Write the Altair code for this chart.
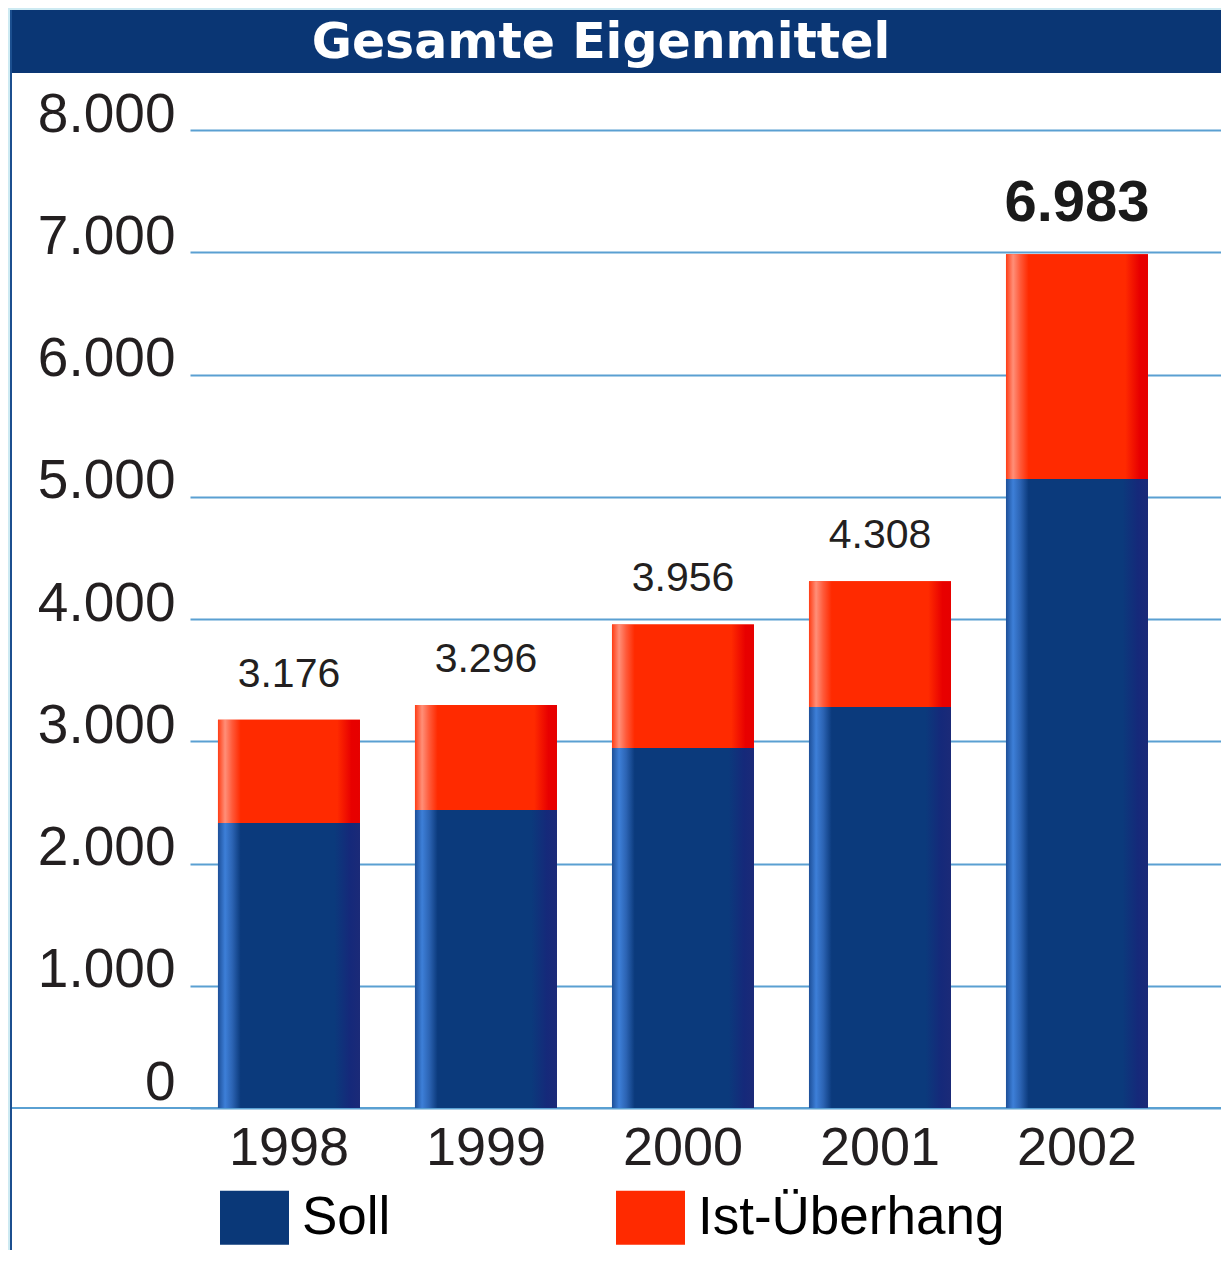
import altair as alt
import pandas as pd

# ---------------- data ----------------
YEARS = ["1998", "1999", "2000", "2001", "2002"]
SOLL = [2331, 2438, 2945, 3280, 5145]
TOTAL = [3176, 3296, 3956, 4308, 6983]
SERIES = ["Soll", "Ist-Überhang"]
Y_TICKS = [0, 1000, 2000, 3000, 4000, 5000, 6000, 7000, 8000]
TITLE = "Gesamte Eigenmittel"
HIGHLIGHT_YEAR = "2002"

# ---------------- styling ----------------
PLOT_W = 1031
PLOT_H = 978
BLUE = "#0a3878"
RED = "#ff2a00"
GRID = "#5aa0d2"
TITLE_BG = "#0a3674"
EDGE_LIGHT = "#cdeaf2"
EDGE_DARK = "#1c4f8f"
FONT = "Liberation Sans"
TXT = "#231f20"

BLUE_STOPS = [(0, "#1d4f98"), (0.05, "#3d7fd8"), (0.10, "#2c64b4"), (0.16, "#0b3a7c"),
              (0.82, "#0b3a7c"), (0.93, "#15297a"), (1.0, "#1b2a78")]
RED_STOPS = [(0, "#ff3c14"), (0.05, "#ff8f78"), (0.10, "#ff5a3a"), (0.16, "#ff2a00"),
             (0.84, "#ff2a00"), (0.94, "#e80000"), (1.0, "#e60000")]


def gradient(stops):
    return alt.Gradient(gradient="linear", x1=0, y1=0, x2=1, y2=0,
                        stops=[alt.GradientStop(offset=o, color=c) for o, c in stops])


rows = []
for yr, s, t in zip(YEARS, SOLL, TOTAL):
    rows.append({"year": yr, "series": "Soll", "start": 0, "end": s})
    rows.append({"year": yr, "series": "Ist-Überhang", "start": s, "end": t})
bars = pd.DataFrame(rows)

totals = pd.DataFrame({
    "year": YEARS,
    "total": TOTAL,
    "label": [f"{v:,}".replace(",", ".") for v in TOTAL],
    "hl": [yr == HIGHLIGHT_YEAR for yr in YEARS],
})

x_axis = alt.Axis(title=None, labelAngle=0, labelFont=FONT, labelFontSize=54,
                  labelColor=TXT, labelBaseline="alphabetic", labelPadding=56,
                  ticks=False, tickSize=0, domain=False, grid=False)
x_scale = alt.Scale(paddingInner=0.2792, paddingOuter=0.2563, align=0.277)

y_axis = alt.Axis(title=None, values=Y_TICKS,
                  labelExpr="replace(format(datum.value, ','), ',', '.')",
                  labelFont=FONT, labelFontSize=55, labelColor=TXT,
                  labelAlign="right", labelBaseline="alphabetic", labelPadding=15,
                  labelOffset={"condition": {"test": "datum.value === 0", "value": -9}, "value": 1},
                  ticks=False, tickSize=0, domain=False,
                  grid=True, gridColor=GRID, gridWidth=2)
y_scale = alt.Scale(domain=[0, 8000], nice=False, zero=True)


def X():
    return alt.X("year:N", sort=YEARS, scale=x_scale, axis=x_axis)


def Y(field):
    return alt.Y(field, scale=y_scale, axis=y_axis)


base = alt.Chart(bars)

flat = base.mark_bar(strokeWidth=0).encode(
    x=X(), y=Y("start:Q"), y2="end:Q",
    color=alt.Color("series:N", sort=SERIES,
                    scale=alt.Scale(domain=SERIES, range=[BLUE, RED]),
                    legend=alt.Legend(
                        title=None, orient="none", legendX=30, legendY=1053,
                        direction="horizontal", columns=2, padding=0,
                        symbolType="M-1,-0.7826H1V0.7826H-1Z", symbolSize=4761,
                        symbolStrokeWidth=0, labelFont=FONT, labelFontSize=53,
                        labelColor="#000000", labelOffset=13, columnPadding=225,
                        labelLimit=500,
                    )),
)

soll_bars = base.transform_filter(alt.datum.series == "Soll").mark_bar(
    color=gradient(BLUE_STOPS), strokeWidth=0
).encode(x=X(), y=Y("start:Q"), y2="end:Q")

ueber_bars = base.transform_filter(alt.datum.series == "Ist-Überhang").mark_bar(
    color=gradient(RED_STOPS), strokeWidth=0
).encode(x=X(), y=Y("start:Q"), y2="end:Q")

tot = alt.Chart(totals)
labels = tot.transform_filter("!datum.hl").mark_text(
    font=FONT, fontSize=41, color=TXT, baseline="alphabetic", align="center", dy=-33
).encode(x=X(), y=Y("total:Q"), text="label:N")

labels_hl = tot.transform_filter("datum.hl").mark_text(
    font=FONT, fontSize=58, fontWeight="bold", color="#1a1a1a",
    baseline="alphabetic", align="center", dy=-33
).encode(x=X(), y=Y("total:Q"), text="label:N")

one = alt.Data(values=[{"t": TITLE}])

baseline_rule = alt.Chart(one).mark_rule(color=GRID, strokeWidth=2).encode(
    x=alt.value(-178), x2=alt.value(PLOT_W), y=alt.value(PLOT_H))

title_bar = alt.Chart(one).mark_rect(color=TITLE_BG).encode(
    x=alt.value(-178), x2=alt.value(PLOT_W), y=alt.value(-120), y2=alt.value(-57))

title_text = alt.Chart(one).mark_text(
    font="DejaVu Sans", fontSize=49, fontWeight="bold", color="#ffffff",
    align="center", baseline="alphabetic"
).encode(x=alt.value(411), y=alt.value(-72), text="t:N")

edge_light_left = alt.Chart(one).mark_rect(color=EDGE_LIGHT).encode(
    x=alt.value(-182), x2=alt.value(-180), y=alt.value(-122), y2=alt.value(PLOT_H + 142))
edge_light_top = alt.Chart(one).mark_rect(color=EDGE_LIGHT).encode(
    x=alt.value(-182), x2=alt.value(PLOT_W), y=alt.value(-122), y2=alt.value(-120))
edge_dark = alt.Chart(one).mark_rect(color=EDGE_DARK).encode(
    x=alt.value(-180), x2=alt.value(-178), y=alt.value(-120), y2=alt.value(PLOT_H + 142))

chart = alt.layer(
    baseline_rule, flat, soll_bars, ueber_bars, labels, labels_hl,
    title_bar, title_text, edge_light_left, edge_light_top, edge_dark,
).properties(
    width=PLOT_W, height=PLOT_H,
    autosize=alt.AutoSizeParams(type="none"),
    padding={"left": 182, "top": 122, "right": 0, "bottom": 142},
).configure_view(stroke=None)

chart.save("out.html", embed_options={"renderer": "svg", "actions": False})
